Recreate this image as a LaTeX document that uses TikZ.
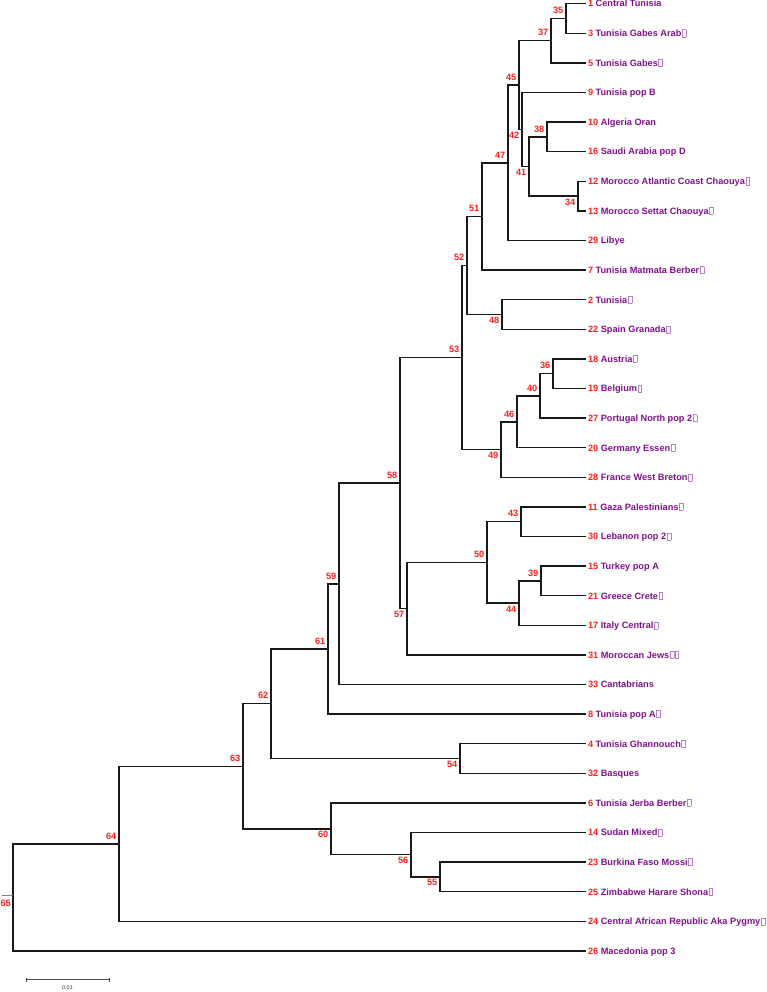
\documentclass[tikz,border=0pt]{standalone}
\usepackage{fontspec}
\setmainfont{Liberation Sans}
\definecolor{numred}{RGB}{255,30,30}
\definecolor{namepurple}{RGB}{128,16,140}
\definecolor{tofucol}{RGB}{180,130,200}
\definecolor{branch}{RGB}{25,25,25}
\newcommand\tofubox{\kern0.6pt\textcolor{tofucol}{\setlength\fboxsep{0pt}\setlength\fboxrule{0.5pt}\fbox{\rule{0pt}{6.6pt}\rule{3.2pt}{0pt}}}}
\newcommand\leaftext[2]{\textcolor{numred}{#1} \textcolor{namepurple}{#2}}
\begin{document}
\begin{tikzpicture}[x=1pt,y=-1pt,
  br/.style={draw=branch,line width=1.5pt,line cap=rect},
  leaflab/.style={anchor=west,inner sep=0pt,outer sep=0pt,text height=6.6pt,text depth=0pt,
    font=\fontsize{9.2}{11}\selectfont\bfseries},
  upl/.style={anchor=south east,inner sep=0pt,xshift=-2.5pt,yshift=4.5pt,text=numred,
    font=\fontsize{9.2}{11}\selectfont\bfseries},
  lol/.style={anchor=north east,inner sep=0pt,xshift=-2.5pt,yshift=-2.5pt,text=numred,
    font=\fontsize{9.2}{11}\selectfont\bfseries}]
\useasboundingbox (0,0) rectangle (766,992);
% leaf tips
\foreach \nm/\k in {1/0,3/1,5/2,9/3,10/4,16/5,12/6,13/7,29/8,7/9,2/10,22/11,18/12,19/13,27/14,20/15,28/16,11/17,30/18,15/19,21/20,17/21,31/22,33/23,8/24,4/25,32/26,6/27,14/28,23/29,25/30,24/31,26/32}
  \coordinate (t\nm) at (585,{3.7+29.6*\k});
% leaf labels
\node[leaflab] (l1) at ([xshift=3pt]t1) {\leaftext{1}{Central Tunisia}};
\node[leaflab] (l3) at ([xshift=3pt]t3) {\leaftext{3}{Tunisia Gabes Arab\tofubox}};
\node[leaflab] (l5) at ([xshift=3pt]t5) {\leaftext{5}{Tunisia Gabes\tofubox}};
\node[leaflab] (l9) at ([xshift=3pt]t9) {\leaftext{9}{Tunisia pop B}};
\node[leaflab] (l10) at ([xshift=3pt]t10) {\leaftext{10}{Algeria Oran}};
\node[leaflab] (l16) at ([xshift=3pt]t16) {\leaftext{16}{Saudi Arabia pop D}};
\node[leaflab] (l12) at ([xshift=3pt]t12) {\leaftext{12}{Morocco Atlantic Coast Chaouya\tofubox}};
\node[leaflab] (l13) at ([xshift=3pt]t13) {\leaftext{13}{Morocco Settat Chaouya\tofubox}};
\node[leaflab] (l29) at ([xshift=3pt]t29) {\leaftext{29}{Libye}};
\node[leaflab] (l7) at ([xshift=3pt]t7) {\leaftext{7}{Tunisia Matmata Berber\tofubox}};
\node[leaflab] (l2) at ([xshift=3pt]t2) {\leaftext{2}{Tunisia\tofubox}};
\node[leaflab] (l22) at ([xshift=3pt]t22) {\leaftext{22}{Spain Granada\tofubox}};
\node[leaflab] (l18) at ([xshift=3pt]t18) {\leaftext{18}{Austria\tofubox}};
\node[leaflab] (l19) at ([xshift=3pt]t19) {\leaftext{19}{Belgium\tofubox}};
\node[leaflab] (l27) at ([xshift=3pt]t27) {\leaftext{27}{Portugal North pop 2\tofubox}};
\node[leaflab] (l20) at ([xshift=3pt]t20) {\leaftext{20}{Germany Essen\tofubox}};
\node[leaflab] (l28) at ([xshift=3pt]t28) {\leaftext{28}{France West Breton\tofubox}};
\node[leaflab] (l11) at ([xshift=3pt]t11) {\leaftext{11}{Gaza Palestinians\tofubox}};
\node[leaflab] (l30) at ([xshift=3pt]t30) {\leaftext{30}{Lebanon pop 2\tofubox}};
\node[leaflab] (l15) at ([xshift=3pt]t15) {\leaftext{15}{Turkey pop A}};
\node[leaflab] (l21) at ([xshift=3pt]t21) {\leaftext{21}{Greece Crete\tofubox}};
\node[leaflab] (l17) at ([xshift=3pt]t17) {\leaftext{17}{Italy Central\tofubox}};
\node[leaflab] (l31) at ([xshift=3pt]t31) {\leaftext{31}{Moroccan Jews\tofubox\tofubox}};
\node[leaflab] (l33) at ([xshift=3pt]t33) {\leaftext{33}{Cantabrians}};
\node[leaflab] (l8) at ([xshift=3pt]t8) {\leaftext{8}{Tunisia pop A\tofubox}};
\node[leaflab] (l4) at ([xshift=3pt]t4) {\leaftext{4}{Tunisia Ghannouch\tofubox}};
\node[leaflab] (l32) at ([xshift=3pt]t32) {\leaftext{32}{Basques}};
\node[leaflab] (l6) at ([xshift=3pt]t6) {\leaftext{6}{Tunisia Jerba Berber\tofubox}};
\node[leaflab] (l14) at ([xshift=3pt]t14) {\leaftext{14}{Sudan Mixed\tofubox}};
\node[leaflab] (l23) at ([xshift=3pt]t23) {\leaftext{23}{Burkina Faso Mossi\tofubox}};
\node[leaflab] (l25) at ([xshift=3pt]t25) {\leaftext{25}{Zimbabwe Harare Shona\tofubox}};
\node[leaflab] (l24) at ([xshift=3pt]t24) {\leaftext{24}{Central African Republic Aka Pygmy\tofubox}};
\node[leaflab] (l26) at ([xshift=3pt]t26) {\leaftext{26}{Macedonia pop 3}};
% internal nodes
\coordinate (n35) at (566,18.5);
\coordinate (n37) at (551,40.7);
\coordinate (n38) at (547,136.9);
\coordinate (n34) at (578,196.1);
\coordinate (n41) at (529,166.5);
\coordinate (n42) at (522,129.5);
\coordinate (n45) at (519,85.1);
\coordinate (n47) at (508,162.8);
\coordinate (n51) at (482,216.45);
\coordinate (n48) at (502,314.5);
\coordinate (n52) at (467,265.5);
\coordinate (n36) at (553,373.7);
\coordinate (n40) at (540,395.9);
\coordinate (n46) at (517,421.8);
\coordinate (n49) at (501,449.55);
\coordinate (n53) at (462,357.5);
\coordinate (n43) at (521,521.7);
\coordinate (n39) at (541,580.9);
\coordinate (n44) at (519,603.1);
\coordinate (n50) at (487,562.4);
\coordinate (n57) at (407,608.65);
\coordinate (n58) at (400,483.1);
\coordinate (n59) at (339,583.8);
\coordinate (n61) at (328,648.95);
\coordinate (n54) at (460,758.5);
\coordinate (n62) at (271,703.7);
\coordinate (n55) at (440,876.9);
\coordinate (n56) at (411,854.7);
\coordinate (n60) at (331,828.8);
\coordinate (n63) at (243,766.25);
\coordinate (n64) at (119,843.8);
\coordinate (n65) at (13,897.35);
% branches
\foreach \p/\a/\b in {n35/t1/t3, n37/n35/t5, n38/t10/t16, n34/t12/t13, n41/n38/n34,
  n42/t9/n41, n45/n37/n42, n47/n45/t29, n51/n47/t7, n48/t2/t22, n52/n51/n48,
  n36/t18/t19, n40/n36/t27, n46/n40/t20, n49/n46/t28, n53/n52/n49,
  n43/t11/t30, n39/t15/t21, n44/n39/t17, n50/n43/n44, n57/n50/t31, n58/n53/n57,
  n59/n58/t33, n61/n59/t8, n54/t4/t32, n62/n61/n54, n55/t23/t25, n56/t14/n55,
  n60/t6/n56, n63/n62/n60, n64/n63/t24, n65/n64/t26}
  \draw[br] (\a) -| (\p) |- (\b);
% root stub
\coordinate (rootstub) at (1.5,895.8);
\draw[draw=gray,line width=1pt] (rootstub) -- (n65 |- rootstub);
% internal labels
\node[upl] (L35) at (n35) {35};
\node[upl] (L37) at (n37) {37};
\node[upl] (L45) at (n45) {45};
\node[lol] (L42) at (n42) {42};
\node[lol] (L41) at (n41) {41};
\node[upl] (L38) at (n38) {38};
\node[lol] (L34) at (n34) {34};
\node[upl] (L47) at (n47) {47};
\node[upl] (L51) at (n51) {51};
\node[upl] (L52) at (n52) {52};
\node[lol] (L48) at (n48) {48};
\node[upl] (L53) at (n53) {53};
\node[lol] (L49) at (n49) {49};
\node[upl] (L46) at (n46) {46};
\node[upl] (L40) at (n40) {40};
\node[upl] (L36) at (n36) {36};
\node[upl] (L58) at (n58) {58};
\node[lol] (L57) at (n57) {57};
\node[upl] (L50) at (n50) {50};
\node[upl] (L43) at (n43) {43};
\node[lol] (L44) at (n44) {44};
\node[upl] (L39) at (n39) {39};
\node[upl] (L59) at (n59) {59};
\node[upl] (L61) at (n61) {61};
\node[upl] (L62) at (n62) {62};
\node[lol] (L54) at (n54) {54};
\node[upl] (L63) at (n63) {63};
\node[lol] (L60) at (n60) {60};
\node[lol] (L56) at (n56) {56};
\node[lol] (L55) at (n55) {55};
\node[upl] (L64) at (n64) {64};
\node[anchor=north east,inner sep=0pt,text=numred,font=\fontsize{9.2}{11}\selectfont\bfseries] (L65) at (11,899.5) {65};
% scale bar
\coordinate (sbl) at (26.7,979.7);
\coordinate (sbr) at (109.3,979.7);
\draw[draw=black!70,line width=0.7pt] (sbl) -- (sbr);
\draw[draw=black!70,line width=0.7pt] ([yshift=1.8pt]sbl) -- ([yshift=-1.8pt]sbl);
\draw[draw=black!70,line width=0.7pt] ([yshift=1.8pt]sbr) -- ([yshift=-1.8pt]sbr);
\node[anchor=north,inner sep=0pt,text=black!80,font=\fontsize{5.5}{6}\selectfont] (sblab) at (67.5,985.8) {0.01};
\end{tikzpicture}
\end{document}
